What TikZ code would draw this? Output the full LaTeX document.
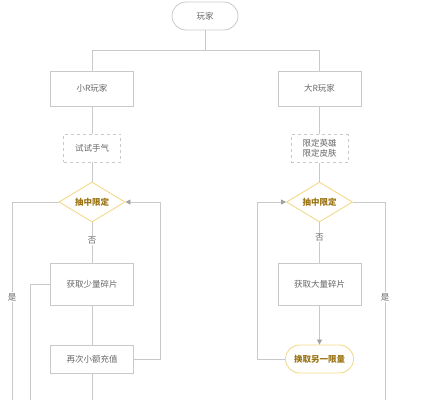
\documentclass[tikz,border=0pt]{standalone}
\usepackage{fontspec}
\newfontfamily\cjk{Noto Sans CJK SC}
\usetikzlibrary{shapes.geometric,arrows.meta}
\definecolor{ln}{HTML}{C9C9C9}
\definecolor{tx}{HTML}{666666}
\definecolor{yb}{HTML}{F3D98A}
\definecolor{yt}{HTML}{9A7414}
\definecolor{ah}{HTML}{A0A0A0}
\begin{document}
\begin{tikzpicture}[x=1pt,y=-1pt,
  every node/.style={font=\cjk\fontsize{8.5}{10}\selectfont, text=tx},
  box/.style={draw=ln, line width=0.8pt, minimum width=83pt, minimum height=35pt, inner sep=0pt},
  dbox/.style={draw=ln, dashed, line width=0.8pt, minimum width=57pt, minimum height=28pt, inner sep=0pt, align=center, font=\cjk\fontsize{8.5}{10}\selectfont},
  pill/.style={draw=ln, rounded corners=14pt, line width=0.8pt, minimum width=66pt, minimum height=28pt, inner sep=0pt},
  ypill/.style={draw=yb, rounded corners=14pt, line width=0.9pt, minimum width=68pt, minimum height=28pt, inner sep=0pt, text=yt, font=\cjk\bfseries\fontsize{8.5}{10}\selectfont},
  dia/.style={draw=yb, diamond, line width=0.9pt, minimum width=66pt, minimum height=40pt, inner sep=0pt, aspect=1.65, text=yt, font=\cjk\bfseries\fontsize{8.5}{10}\selectfont},
  conn/.style={draw=ln, line width=0.8pt},
  arr/.style={conn, -{Triangle[length=5pt,width=5pt,color=ah,fill=ah]}},
  lab/.style={fill=white, inner sep=1pt}]
\useasboundingbox (0,0) rectangle (422,400);
\node[pill] (start) at (205,16) {玩家};
\node[box] (small) at (92,88.5) {小R玩家};
\node[box] (big) at (319.5,88.5) {大R玩家};
\node[dbox] (try) at (92,148) {试试手气};
\node[dbox] (lim) at (319.5,148.5) {限定英雄\\限定皮肤};
\node[dia] (d1) at (92,202) {抽中限定};
\node[dia] (d2) at (319.5,202) {抽中限定};
\node[box, minimum height=42pt] (few) at (92,284) {获取少量碎片};
\node[box, minimum height=42pt] (many) at (319.5,284) {获取大量碎片};
\node[box, minimum height=28pt] (again) at (92,359) {再次小额充值};
\node[ypill] (swap) at (319.5,359) {换取另一限量};
\coordinate (b1) at (12,400);
\coordinate (b2) at (30,400);
\coordinate (b3) at (92,400);
\coordinate (b4) at (385,400);
% top split
\draw[conn] (start.south) -- (205,50) -| (small.north);
\draw[conn] (205,50) -| (big.north);
\draw[conn] (small) -- (try);
\draw[conn] (big) -- (lim);
\draw[conn] (try) -- (d1);
\draw[conn] (lim) -- (d2);
% left branch
\draw[conn] (d1.south) -- node[lab,pos=0.45] {否} (few.north);
\draw[conn] (few) -- (again);
\draw[arr] (again.east) -- (160,359) |- (d1.east);
\draw[conn] (d1.west) -| node[lab,pos=0.74] {是} (b1);
\draw[conn] (few.west) -| (b2);
\draw[conn] (again.south) -- (b3);
% right branch
\draw[conn] (d2.south) -- node[lab,pos=0.38] {否} (many.north);
\draw[arr] (many.south) -- (swap.north);
\draw[arr] (swap.west) -- (257,359) |- (d2.west);
\draw[conn] (d2.east) -| node[lab,pos=0.74] {是} (b4);
\end{tikzpicture}
\end{document}
